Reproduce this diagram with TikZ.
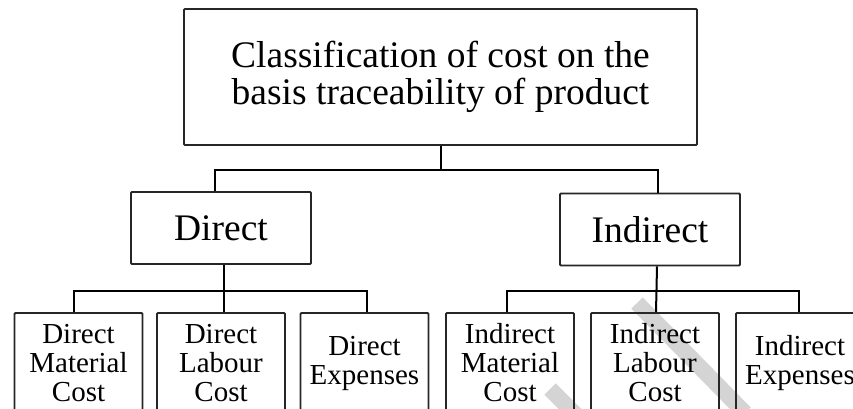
\documentclass[tikz,border=0pt]{standalone}
\usepackage{fontspec}
\setmainfont{Liberation Serif}
\begin{document}
\begin{tikzpicture}[x=1pt,y=-1pt,
  box/.style={draw=black!85, line width=1.8pt, rounded corners=1pt,
    inner sep=0pt, align=center},
  headbox/.style={box, minimum width=513pt, minimum height=136pt,
    font=\fontsize{37.5}{37}\selectfont},
  groupbox/.style={box, minimum width=180pt, minimum height=72pt,
    font=\fontsize{37.5}{37}\selectfont},
  itembox/.style={box, minimum width=128pt, minimum height=100pt,
    font=\fontsize{29}{29}\selectfont},
  conn/.style={draw=black, line width=2pt},
  mark band/.style={draw=black!17, line width=16pt}
]
\useasboundingbox (0,0) rectangle (853,408);
\clip (0,0) rectangle (853,408);

% faint diagonal bands lying behind the chart
\draw[mark band] (637,303) -- (745,413);
\draw[mark band] (550,389) -- (582,421);

% boxes
\node[headbox] (top) at (440.5,77) {Classification of cost on the\\basis traceability of product};
\node[groupbox] (dir) at (221,228) {Direct};
\node[groupbox] (ind) at (650,229.5) {Indirect};

\node[itembox] (dm) at (78.5,363)  {Direct\\Material\\Cost};
\node[itembox] (dl) at (221,363)   {Direct\\Labour\\Cost};
\node[itembox] (de) at (364.5,363) {Direct\\Expenses};
\node[itembox] (im) at (510,363)   {Indirect\\Material\\Cost};
\node[itembox] (il) at (655,363)   {Indirect\\Labour\\Cost};
\node[itembox] (ie) at (800,363)   {Indirect\\Expenses};

% first level
\draw[conn] (top.south) -- ++(0,24) coordinate (j0);
\draw[conn] ([xshift=-6pt]dir.north) |- (j0) -| ([xshift=8pt]ind.north);

% second level, direct costs
\draw[conn] ([xshift=3pt]dir.south) -- ([xshift=3pt]dl.north);
\draw[conn] ([xshift=-4.5pt]dm.north) -- ++(0,-21) -| ([xshift=2.5pt]de.north);

% second level, indirect costs
\draw[conn] ([xshift=7pt]ind.south) -- ([xshift=1pt]il.north);
\draw[conn] ([xshift=-3pt]im.north) -- ++(0,-21) -| ([xshift=-1pt]ie.north);
\end{tikzpicture}
\end{document}
